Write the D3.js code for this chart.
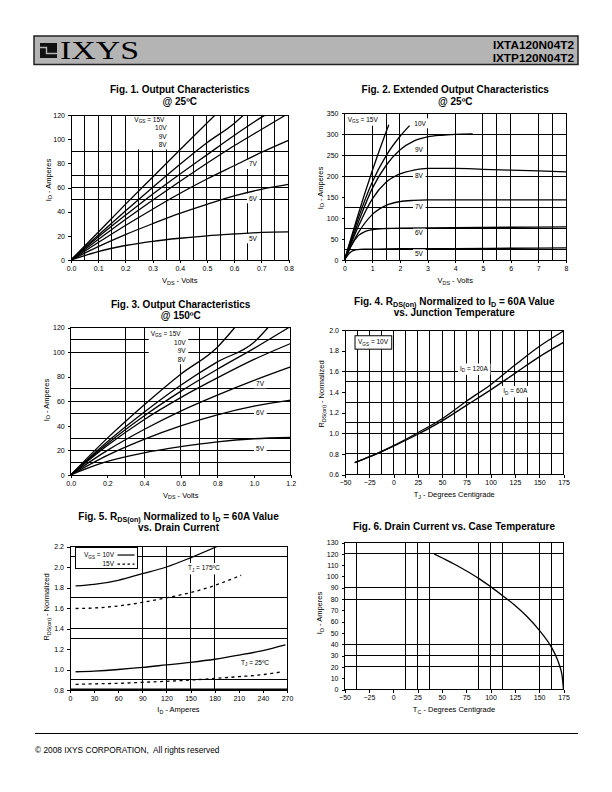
<!DOCTYPE html>
<html><head><meta charset="utf-8">
<script src="https://cdn.jsdelivr.net/npm/d3@7"></script>
<style>
body{margin:0;background:#fff}
svg{display:block}
text{font-family:"Liberation Sans",Arial,Helvetica,sans-serif;fill:#000}
</style></head><body>
<svg id="page" width="612" height="792"></svg>
<script>
// ================= DATA =================
// Fig 1: Output characteristics @25C (VDS volts, ID amperes)
const fig1_15V = [[0,0],[0.1,23],[0.2,46],[0.3,68.5],[0.4,91],[0.53,120]];
const fig1_10V = [[0,0],[0.1,20.5],[0.2,40.5],[0.3,60],[0.4,79],[0.5,97],[0.6,113],[0.635,120]];
const fig1_9V  = [[0,0],[0.1,19],[0.2,37],[0.3,54.5],[0.4,71],[0.5,87],[0.6,103],[0.7,118],[0.715,120]];
const fig1_8V  = [[0,0],[0.1,17],[0.2,33.5],[0.3,49.5],[0.4,65],[0.5,80],[0.6,94.5],[0.7,108],[0.79,120]];
const fig1_7V  = [[0,0],[0.1,14.5],[0.2,28.5],[0.3,42],[0.4,55],[0.5,67],[0.6,78],[0.7,89],[0.8,99]];
const fig1_6V  = [[0,0],[0.1,11],[0.2,21],[0.3,30],[0.4,38.5],[0.5,46],[0.6,53],[0.7,58.5],[0.8,62.5]];
const fig1_5V  = [[0,0],[0.1,7],[0.2,12],[0.3,15.5],[0.4,18],[0.5,20],[0.6,21.5],[0.7,22.8],[0.8,23.2]];
const fig1XTicks = [0,0.1,0.2,0.3,0.4,0.5,0.6,0.7,0.8];
const fig1YTicks = [0,20,40,60,80,100,120];
const fig1GridX = [0.05,0.1,0.15,0.2,0.25,0.3,0.35,0.4,0.45,0.5,0.55,0.6,0.65,0.7,0.75];
const fig1GridY = [50,60,70,90];
const fig1Labels = [
  {t:"V_{GS} = 15V", x:0.233, y:114.4, a:"start", g:1},
  {t:"10V", x:0.352, y:107.4, a:"end", g:1},
  {t:"9V",  x:0.352, y:100.5, a:"end", g:1},
  {t:"8V",  x:0.352, y:93.6,  a:"end", g:1},
  {t:"7V",  x:0.669, y:77.4,  a:"middle", g:2},
  {t:"6V",  x:0.669, y:49.0,  a:"middle", g:3},
  {t:"5V",  x:0.669, y:15.9,  a:"middle", g:4}
];

// Fig 2: Extended output characteristics @25C
const fig2_15V = [[0,0],[0.4,88],[0.8,172],[1.2,250],[1.6,322]];
const fig2_10V = [[0,0],[0.5,100],[1,185],[1.5,248],[2,294],[2.35,320]];
const fig2_9V  = [[0,0],[0.5,90],[1,170],[1.5,225],[2,262],[2.5,283],[3,293],[3.5,297],[4,299],[4.63,300]];
const fig2_8V  = [[0,0],[0.5,80],[1,145],[1.5,185],[2,205],[2.5,214],[3,218],[4,218],[5,216],[6,214],[7,212],[8,210]];
const fig2_7V  = [[0,0],[0.5,65],[1,108],[1.5,130],[2,139],[2.5,142],[3,143],[4,143],[5,143],[6,143],[8,143]];
const fig2_6V  = [[0,0],[0.25,35],[0.5,58],[0.75,68],[1,72],[1.5,75],[2,76],[4,77],[6,78],[8,79]];
const fig2_5V  = [[0,0],[0.2,18],[0.4,24],[0.7,26],[1,26],[2,27],[4,27],[6,28],[8,29]];
const fig2XTicks = [0,1,2,3,4,5,6,7,8];
const fig2YTicks = [0,50,100,150,200,250,300,350];
const fig2GridX = [1,1.5,2,3,4,5,5.5,6,7,7.5];
const fig2GridY = [25,75,125,200,250,300];
const fig2Labels = [
  {t:"V_{GS} = 15V", x:0.115, y:329, a:"start", g:1},
  {t:"10V", x:2.73, y:319.5, a:"middle", g:2},
  {t:"9V",  x:2.69, y:258,   a:"middle", g:3},
  {t:"8V",  x:2.69, y:194.8, a:"middle", g:4},
  {t:"7V",  x:2.69, y:122.6, a:"middle", g:5},
  {t:"6V",  x:2.69, y:59,    a:"middle", g:6},
  {t:"5V",  x:2.69, y:10,    a:"middle", g:7}
];

// Fig 3: Output characteristics @150C
const fig3_15V = [[0,0],[0.2,30],[0.4,57],[0.6,82],[0.8,104],[0.895,120]];
const fig3_10V = [[0,0],[0.2,27],[0.4,51],[0.6,73],[0.8,92],[1.0,108],[1.077,120]];
const fig3_9V  = [[0,0],[0.2,25.5],[0.4,48],[0.6,68],[0.8,86],[1.0,103],[1.19,120]];
const fig3_8V  = [[0,0],[0.2,24],[0.4,45],[0.6,63],[0.8,79],[1.0,94],[1.2,107]];
const fig3_7V  = [[0,0],[0.2,20],[0.4,37],[0.6,52],[0.8,65],[1.0,77],[1.2,88]];
const fig3_6V  = [[0,0],[0.2,16],[0.4,29],[0.6,40],[0.8,49],[1.0,56],[1.2,61]];
const fig3_5V  = [[0,0],[0.1,6],[0.2,11],[0.4,18],[0.6,23],[0.8,27],[1.0,29.5],[1.2,30.5]];
const fig3XTicks = [0,0.2,0.4,0.6,0.8,1.0,1.2];
const fig3YTicks = [0,20,40,60,80,100,120];
const fig3GridX = [0.3,0.4,0.6,0.7,0.8];
const fig3GridY = [10,20,30,50,60,70,100,110];
const fig3Labels = [
  {t:"V_{GS} = 15V", x:0.436, y:113.3, a:"start", g:1},
  {t:"10V", x:0.627, y:105.6, a:"end", g:1},
  {t:"9V",  x:0.627, y:98.9,  a:"end", g:1},
  {t:"8V",  x:0.627, y:92.1,  a:"end", g:1},
  {t:"7V",  x:1.033, y:72.6,  a:"middle", g:2},
  {t:"6V",  x:1.033, y:49,    a:"middle", g:3},
  {t:"5V",  x:1.033, y:19.7,  a:"middle", g:4}
];

// Fig 4: RDS(on) normalized vs junction temperature
const fig4_120A = [[-40,0.715],[-25,0.77],[0,0.88],[25,1.005],[50,1.14],[75,1.31],[100,1.47],[125,1.66],[150,1.84],[175,1.99]];
const fig4_60A  = [[-40,0.715],[-25,0.77],[0,0.875],[25,0.99],[50,1.12],[75,1.27],[100,1.42],[125,1.58],[150,1.74],[175,1.88]];
const fig4XTicks = [-50,-25,0,25,50,75,100,125,150,175];
const fig4YTicks = [0.6,0.8,1.0,1.2,1.4,1.6,1.8,2.0];
const fig4GridX = [-37.5,-25,-12.5,0,12.5,25,37.5,50,62.5,75,87.5,100,112.5,125,137.5,150,162.5];
const fig4GridY = [0.8,1.0,1.1,1.3,1.5,1.6];
const fig4Labels = [
  {t:"V_{GS} = 10V", x:-36.6, y:1.862, a:"start", g:1, box:true},
  {t:"I_{D} = 120A", x:68.4, y:1.603, a:"start", g:2},
  {t:"I_{D} = 60A",  x:113,  y:1.385, a:"start", g:3}
];

// Fig 5: RDS(on) normalized vs drain current
const fig5_175_10V = [[7,1.815],[30,1.83],[60,1.87],[90,1.935],[120,2.0],[150,2.09],[183,2.2]];
const fig5_175_15V = [[7,1.595],[30,1.6],[60,1.62],[90,1.655],[120,1.70],[150,1.75],[180,1.82],[213,1.92]];
const fig5_25_10V  = [[7,0.978],[30,0.985],[60,1.0],[90,1.02],[120,1.045],[150,1.07],[180,1.10],[210,1.14],[240,1.185],[268,1.24]];
const fig5_25_15V  = [[7,0.855],[30,0.86],[60,0.865],[90,0.875],[120,0.885],[150,0.897],[180,0.913],[210,0.93],[240,0.95],[262,0.975]];
const fig5XTicks = [0,30,60,90,120,150,180,210,240,270];
const fig5YTicks = [0.8,1.0,1.2,1.4,1.6,1.8,2.0,2.2];
const fig5GridX = [90,120,150,180];
const fig5GridY = [0.9,1.3,1.4,1.7,2.1];
const fig5Labels = [
  {t:"T_{J} = 175ºC", x:146.8, y:1.966, a:"start", g:1},
  {t:"T_{J} = 25ºC",  x:212.8, y:1.044, a:"start", g:2}
];
const fig5LegendNames = ["V_{GS} = 10V","15V"];

// Fig 6: Drain current vs case temperature
const fig6_ID = [[42,120],[50,116.5],[62.5,111],[75,105],[87.5,98.5],[100,91],[112.5,83],[125,74.5],[137.5,64.5],[150,52.5],[162.5,37.5],[167.5,29],[171,21],[173.5,12.5],[175,0]];
const fig6XTicks = [-50,-25,0,25,50,75,100,125,150,175];
const fig6YTicks = [0,10,20,30,40,50,60,70,80,90,100,110,120,130];
const fig6GridX = [-37.5,12.5,25,37.5,87.5,100,112.5,150,162.5];
const fig6GridY = [20,30,40,80,90,120];

// ================= DRAWING =================
const FONT = "Liberation Sans, Arial, Helvetica, sans-serif";
const svg = d3.select("#page");

function rich(sel, str, fs) {
  const parts = str.split(/(_\{[^}]*\})/);
  let shifted = false;
  const sh = fs * 0.22;
  parts.forEach(p => {
    if (!p) return;
    const m = p.match(/^_\{([^}]*)\}$/);
    if (m) {
      sel.append("tspan").attr("font-size", fs * 0.72).attr("dy", shifted ? 0 : sh).text(m[1]);
      shifted = true;
    } else {
      sel.append("tspan").attr("dy", shifted ? -sh : 0).text(p);
      shifted = false;
    }
  });
  return sel;
}

let clipId = 0;
function drawChart(c) {
  const g = svg.append("g");
  const x = d3.scaleLinear().domain(c.xDom).range([c.L, c.R]);
  const y = d3.scaleLinear().domain(c.yDom).range([c.B, c.T]);
  const id = "clip" + (clipId++);
  g.append("clipPath").attr("id", id).append("rect")
    .attr("x", c.L).attr("y", c.T).attr("width", c.R - c.L).attr("height", c.B - c.T);

  const gridG = g.append("g").attr("shape-rendering", "crispEdges");
  const bgG = g.append("g");
  const curveG = g.append("g").attr("clip-path", `url(#${id})`);
  const labG = g.append("g");

  gridG.selectAll("line.gx").data(c.gridX).join("line").attr("class", "gx")
    .attr("x1", d => x(d)).attr("x2", d => x(d)).attr("y1", c.T).attr("y2", c.B)
    .attr("stroke", "#000").attr("stroke-width", 1);
  gridG.selectAll("line.gy").data(c.gridY).join("line").attr("class", "gy")
    .attr("y1", d => y(d)).attr("y2", d => y(d)).attr("x1", c.L).attr("x2", c.R)
    .attr("stroke", "#000").attr("stroke-width", 1);

  // labels
  const groups = {};
  (c.labels || []).forEach(l => {
    const t = labG.append("text").attr("x", x(l.x)).attr("y", y(l.y))
      .attr("font-size", 6.5).attr("text-anchor", l.a || "start");
    rich(t, l.t, 6.5);
    const b = t.node().getBBox();
    if (!groups[l.g]) groups[l.g] = {x0: b.x, y0: b.y, x1: b.x + b.width, y1: b.y + b.height, box: !!l.box};
    else {
      const q = groups[l.g];
      q.x0 = Math.min(q.x0, b.x); q.y0 = Math.min(q.y0, b.y);
      q.x1 = Math.max(q.x1, b.x + b.width); q.y1 = Math.max(q.y1, b.y + b.height);
    }
  });
  Object.values(groups).forEach(q => {
    const p = q.box ? 3 : 2;
    bgG.append("rect").attr("x", q.x0 - p).attr("y", q.y0 - p + 0.5)
      .attr("width", q.x1 - q.x0 + 2 * p).attr("height", q.y1 - q.y0 + 2 * p - 1)
      .attr("fill", "#fff").attr("stroke", q.box ? "#000" : "none").attr("stroke-width", 1);
  });

  const line = d3.line().x(d => x(d[0])).y(d => y(d[1])).curve(d3.curveMonotoneX);
  c.series.forEach(s => {
    curveG.append("path").attr("d", line(s.d)).attr("fill", "none")
      .attr("stroke", "#000").attr("stroke-width", s.w || 1.3)
      .attr("stroke-dasharray", s.dash || null);
  });

  g.append("rect").attr("x", c.L).attr("y", c.T).attr("width", c.R - c.L).attr("height", c.B - c.T)
    .attr("fill", "none").attr("stroke", "#000").attr("stroke-width", 1).attr("shape-rendering", "crispEdges");
  if (c.thickBottom) {
    g.append("line").attr("x1", c.L).attr("x2", c.R).attr("y1", c.B - 0.5).attr("y2", c.B - 0.5)
      .attr("stroke", "#000").attr("stroke-width", 2);
  }

  const ax = g.append("g").attr("transform", `translate(0,${c.B})`)
    .call(d3.axisBottom(x).tickValues(c.xTicks).tickFormat(c.xFmt).tickSize(3).tickPadding(3).tickSizeOuter(0));
  ax.attr("font-size", 7).attr("font-family", FONT);
  ax.select(".domain").remove();
  ax.selectAll("line").attr("shape-rendering", "crispEdges");
  const ay = g.append("g").attr("transform", `translate(${c.L},0)`)
    .call(d3.axisLeft(y).tickValues(c.yTicks).tickFormat(c.yFmt).tickSize(3).tickPadding(3).tickSizeOuter(0));
  ay.attr("font-size", 7).attr("font-family", FONT);
  ay.select(".domain").remove();
  ay.selectAll("line").attr("shape-rendering", "crispEdges");

  // titles
  c.title.forEach((tl, i) => {
    const t = g.append("text").attr("x", (c.L + c.R) / 2 + (c.titleDx || 0)).attr("y", c.titleY + i * 11.8)
      .attr("text-anchor", "middle").attr("font-size", 10).attr("font-weight", "bold");
    rich(t, tl, 10);
  });
  const xl = g.append("text").attr("x", (c.L + c.R) / 2).attr("y", c.xLabY)
    .attr("text-anchor", "middle").attr("font-size", 7.5);
  rich(xl, c.xLab, 7.5);
  const yl = g.append("text").attr("transform", `translate(${c.yLabX},${c.yLabCY}) rotate(-90)`)
    .attr("text-anchor", "middle").attr("font-size", 7.5);
  rich(yl, c.yLab, 7.5);

  return {g, x, y};
}

// ---- header ----
svg.append("rect").attr("x", 34).attr("y", 36).attr("width", 544).attr("height", 28.5)
  .attr("fill", "#b4b4b4").attr("stroke", "#222").attr("stroke-width", 1.5);
svg.append("rect").attr("x", 40).attr("y", 43).attr("width", 17).attr("height", 15).attr("fill", "#111");
svg.append("path").attr("d", "M40,47.5 H46.5 V53.5 H57").attr("fill", "none").attr("stroke", "#b4b4b4").attr("stroke-width", 1.4);
svg.append("text").attr("x", 60).attr("y", 59)
  .style("font-family", "'Liberation Serif','Times New Roman',serif").style("font-size", "25px")
  .attr("textLength", 79).attr("lengthAdjust", "spacingAndGlyphs").text("IXYS");
svg.append("text").attr("x", 574).attr("y", 48.5).attr("text-anchor", "end").attr("font-size", 11.8)
  .attr("font-weight", "bold").text("IXTA120N04T2");
svg.append("text").attr("x", 574).attr("y", 61.5).attr("text-anchor", "end").attr("font-size", 11.8)
  .attr("font-weight", "bold").text("IXTP120N04T2");

// ---- Fig 1 ----
drawChart({
  L: 71, R: 288.5, T: 115, B: 260, xDom: [0, 0.8], yDom: [0, 120],
  xTicks: fig1XTicks, yTicks: fig1YTicks, xFmt: d3.format(".1f"), yFmt: d3.format("d"),
  gridX: fig1GridX, gridY: fig1GridY, labels: fig1Labels,
  series: [fig1_15V, fig1_10V, fig1_9V, fig1_8V, fig1_7V, fig1_6V, fig1_5V].map(d => ({d})),
  title: ["Fig. 1. Output Characteristics", "@ 25ºC"], titleY: 93,
  xLab: "V_{DS} - Volts", xLabY: 283, yLab: "I_{D} - Amperes", yLabX: 50.5, yLabCY: 180
});

// ---- Fig 2 ----
drawChart({
  L: 344.5, R: 566, T: 113, B: 260, xDom: [0, 8], yDom: [0, 350],
  xTicks: fig2XTicks, yTicks: fig2YTicks, xFmt: d3.format("d"), yFmt: d3.format("d"),
  gridX: fig2GridX, gridY: fig2GridY, labels: fig2Labels,
  series: [fig2_15V, fig2_10V, fig2_9V, fig2_8V, fig2_7V, fig2_6V, fig2_5V].map(d => ({d})),
  title: ["Fig. 2. Extended Output Characteristics", "@ 25ºC"], titleY: 93,
  xLab: "V_{DS} - Volts", xLabY: 283, yLab: "I_{D} - Amperes", yLabX: 322.5, yLabCY: 188
});

// ---- Fig 3 ----
drawChart({
  L: 70.7, R: 290.7, T: 327.5, B: 475, xDom: [0, 1.2], yDom: [0, 120],
  xTicks: fig3XTicks, yTicks: fig3YTicks, xFmt: d3.format(".1f"), yFmt: d3.format("d"),
  gridX: fig3GridX, gridY: fig3GridY, labels: fig3Labels,
  series: [fig3_15V, fig3_10V, fig3_9V, fig3_8V, fig3_7V, fig3_6V, fig3_5V].map(d => ({d})),
  title: ["Fig. 3. Output Characteristics", "@ 150ºC"], titleY: 307.5,
  xLab: "V_{DS} - Volts", xLabY: 497.5, yLab: "I_{D} - Amperes", yLabX: 48.5, yLabCY: 400
});

// ---- Fig 4 ----
drawChart({
  L: 345, R: 563.5, T: 330, B: 474.5, xDom: [-50, 175], yDom: [0.6, 2.0],
  xTicks: fig4XTicks, yTicks: fig4YTicks, xFmt: d3.format("d"), yFmt: d3.format(".1f"),
  gridX: fig4GridX, gridY: fig4GridY, labels: fig4Labels,
  series: [{d: fig4_120A}, {d: fig4_60A}],
  title: ["Fig. 4. R_{DS(on)} Normalized to I_{D} = 60A Value", "vs. Junction Temperature"], titleY: 304.5,
  xLab: "T_{J} - Degrees Centigrade", xLabY: 497, yLab: "R_{DS(on)} - Normalized", yLabX: 324, yLabCY: 394
});

// ---- Fig 5 ----
const f5 = drawChart({
  L: 70, R: 287, T: 546.5, B: 690, xDom: [0, 270], yDom: [0.8, 2.2],
  xTicks: fig5XTicks, yTicks: fig5YTicks, xFmt: d3.format("d"), yFmt: d3.format(".1f"),
  gridX: fig5GridX, gridY: fig5GridY, labels: fig5Labels, thickBottom: true,
  series: [{d: fig5_175_10V}, {d: fig5_175_15V, dash: "3,3.5"}, {d: fig5_25_10V}, {d: fig5_25_15V, dash: "3,3.5"}],
  title: ["Fig. 5. R_{DS(on)} Normalized to I_{D} = 60A Value", "vs. Drain Current"], titleY: 519.5,
  xLab: "I_{D} - Amperes", xLabY: 712, yLab: "R_{DS(on)} - Normalized", yLabX: 49, yLabCY: 607
});
// legend for Fig 5
{
  const lx0 = f5.x(7), lx1 = f5.x(84), ly0 = f5.y(2.19), ly1 = f5.y(1.99);
  f5.g.append("rect").attr("x", lx0).attr("y", ly0).attr("width", lx1 - lx0).attr("height", ly1 - ly0)
    .attr("fill", "#fff").attr("stroke", "#000").attr("stroke-width", 1).attr("shape-rendering", "crispEdges");
  fig5LegendNames.forEach((nm, i) => {
    const yy = ly0 + 7.5 + i * 9;
    const t = f5.g.append("text").attr("x", lx1 - 23.5).attr("y", yy + 2.2).attr("text-anchor", "end").attr("font-size", 6.5);
    rich(t, nm, 6.5);
    f5.g.append("line").attr("x1", lx1 - 20).attr("x2", lx1 - 3).attr("y1", yy).attr("y2", yy)
      .attr("stroke", "#000").attr("stroke-width", 1.2).attr("stroke-dasharray", i === 1 ? "2.5,2.5" : null);
  });
}

// ---- Fig 6 ----
drawChart({
  L: 344.5, R: 563.5, T: 542.5, B: 689.5, xDom: [-50, 175], yDom: [0, 130],
  xTicks: fig6XTicks, yTicks: fig6YTicks, xFmt: d3.format("d"), yFmt: d3.format("d"),
  gridX: fig6GridX, gridY: fig6GridY, labels: [],
  series: [{d: fig6_ID}],
  title: ["Fig. 6. Drain Current vs. Case Temperature"], titleY: 529.5,
  xLab: "T_{C} - Degrees Centigrade", xLabY: 712, yLab: "I_{D} - Amperes", yLabX: 322, yLabCY: 613
});

// ---- footer ----
svg.append("line").attr("x1", 35).attr("x2", 578).attr("y1", 733.5).attr("y2", 733.5).attr("stroke", "#000").attr("stroke-width", 1);
svg.append("text").attr("x", 35).attr("y", 753).attr("font-size", 8.3).style("white-space", "pre")
  .text("© 2008 IXYS CORPORATION,  All rights reserved");
</script>
</body></html>
